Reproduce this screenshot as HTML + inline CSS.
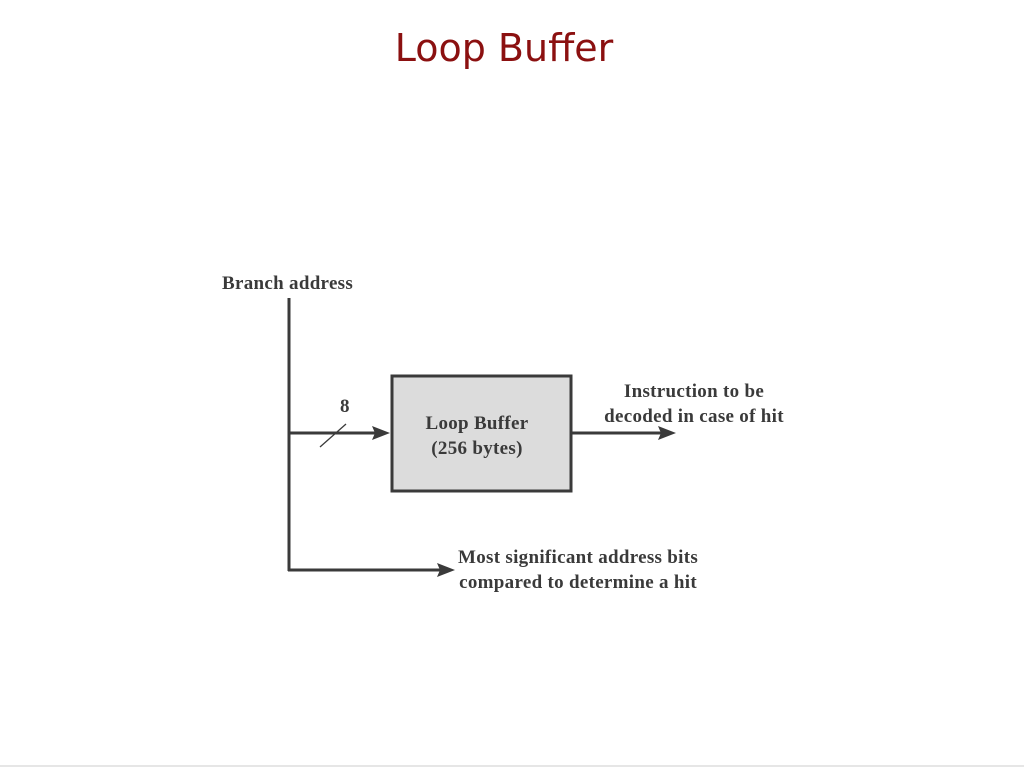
<!DOCTYPE html>
<html><head><style>
body{margin:0;width:1024px;height:768px;background:#fff;overflow:hidden;position:relative}
.t{position:absolute;font-family:"Liberation Serif",serif;font-weight:bold;color:#3a3a3a;font-size:19px;letter-spacing:0.3px;white-space:nowrap}
</style></head><body>
<div style="position:absolute;left:0;top:26px;width:1008px;text-align:center;font-family:'Comic Sans MS','DejaVu Sans',sans-serif;font-size:38px;color:#8b1010">Loop Buffer</div>
<svg width="1024" height="768" style="position:absolute;left:0;top:0">
<line x1="289" y1="298" x2="289" y2="571" stroke="#3a3a3a" stroke-width="3"/>
<line x1="289" y1="433" x2="376" y2="433" stroke="#3a3a3a" stroke-width="3"/>
<polygon points="390,433 372,426 375,433 372,440" fill="#3a3a3a"/>
<line x1="320" y1="447" x2="346" y2="424" stroke="#3a3a3a" stroke-width="1.3"/>
<rect x="392" y="376" width="179" height="115" fill="#dcdcdc" stroke="#3a3a3a" stroke-width="3"/>
<line x1="572" y1="433" x2="662" y2="433" stroke="#3a3a3a" stroke-width="3"/>
<polygon points="676,433 658,426 661,433 658,440" fill="#3a3a3a"/>
<line x1="288" y1="570" x2="440" y2="570" stroke="#3a3a3a" stroke-width="3"/>
<polygon points="455,570 437,563 440,570 437,577" fill="#3a3a3a"/>
<line x1="0" y1="766" x2="1024" y2="766" stroke="#e6e6e6" stroke-width="2"/>
</svg>
<div class="t" style="left:222px;top:273px">Branch address</div>
<div class="t" style="left:340px;top:396px">8</div>
<div class="t" style="left:382px;top:411px;width:190px;text-align:center;line-height:25px">Loop Buffer<br>(256 bytes)</div>
<div class="t" style="left:584px;top:379px;width:220px;text-align:center;line-height:25px">Instruction to be<br>decoded in case of hit</div>
<div class="t" style="left:458px;top:545px;line-height:25px;text-align:center">Most significant address bits<br>compared to determine a hit</div>
</body></html>
